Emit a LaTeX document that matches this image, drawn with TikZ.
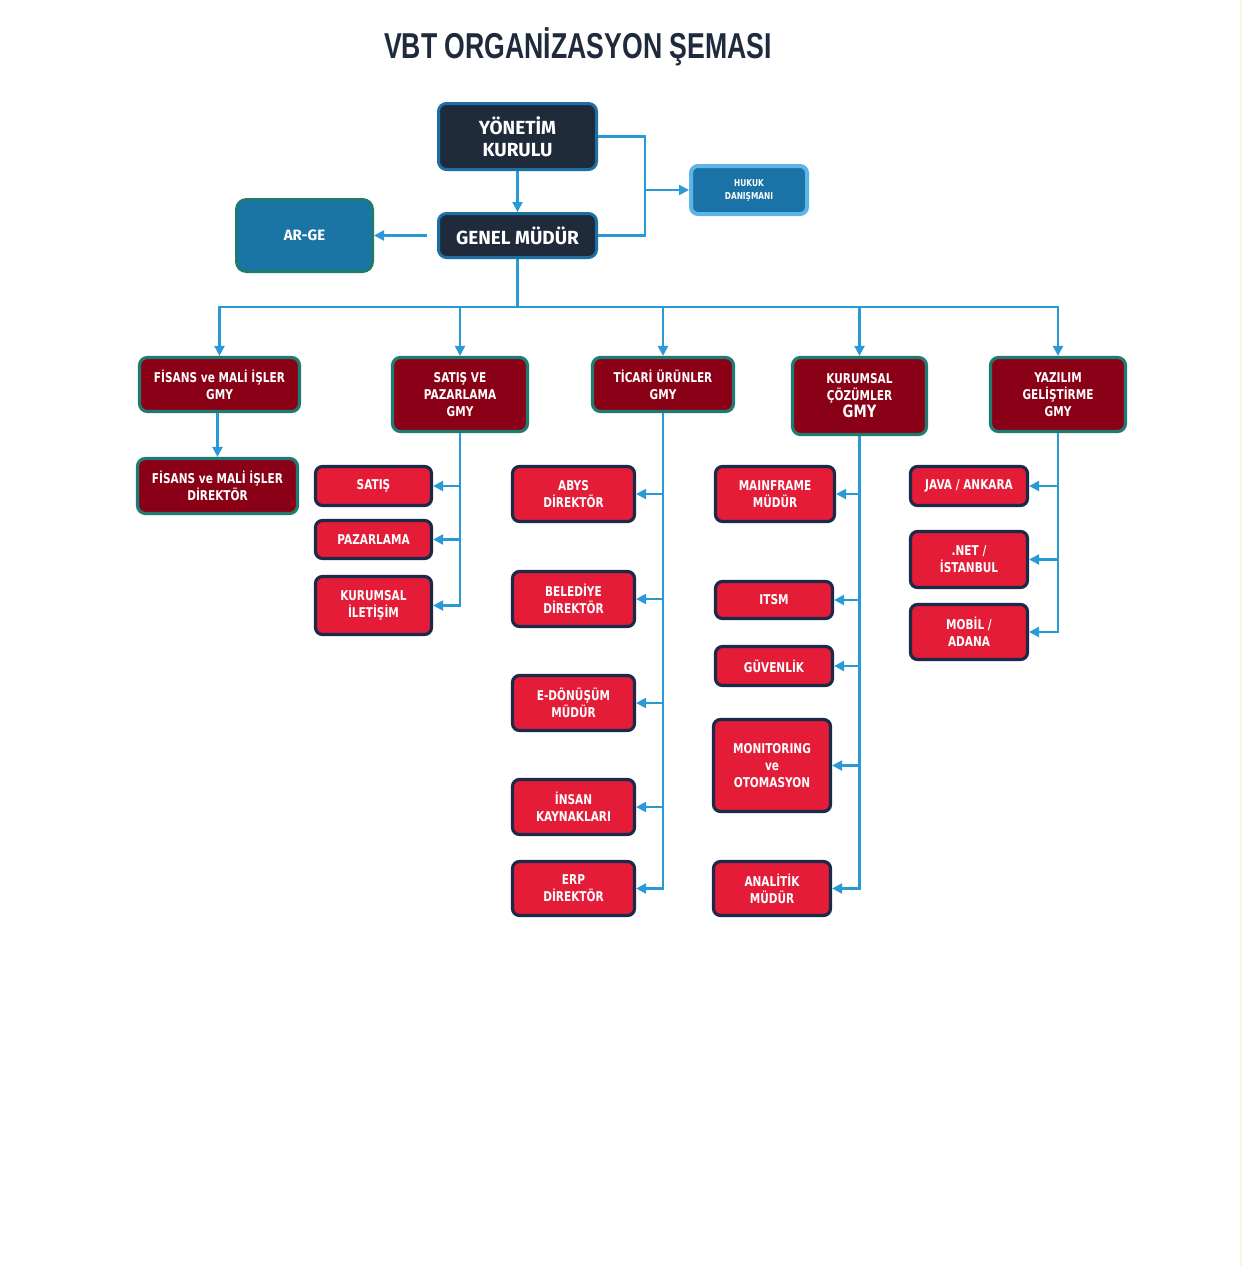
\documentclass[tikz,border=0pt]{standalone}
\usepackage{fontspec}
\usetikzlibrary{arrows.meta}
\setmainfont{DejaVu Sans}
\newfontfamily\boxfont[FakeStretch=0.78]{DejaVu Sans}
\newfontfamily\titlefont[FakeStretch=0.74]{Liberation Sans}
\newfontfamily\topfont{Fira Sans}
\definecolor{navyfill}{HTML}{1F2A3B}
\definecolor{topborder}{HTML}{1D6FA5}
\definecolor{hukukfill}{HTML}{1A72A6}
\definecolor{hukukborder}{HTML}{5BB5E8}
\definecolor{argefill}{HTML}{1B74A6}
\definecolor{tealborder}{HTML}{1F7A70}
\definecolor{gmyred}{HTML}{8A0016}
\definecolor{brightred}{HTML}{E41C38}
\definecolor{navyborder}{HTML}{1C2A4A}
\definecolor{connblue}{HTML}{2A9AD6}
\definecolor{titlecol}{HTML}{1F2A3C}
\definecolor{edgeline}{HTML}{F8F8DE}
\tikzset{
  topbox/.style={draw=topborder, fill=navyfill, line width=3pt, rounded corners=8pt,
    text=white, font=\topfont\bfseries\fontsize{19}{22}\selectfont, align=center, inner sep=0pt},
  hukukbox/.style={draw=hukukborder, fill=hukukfill, line width=4pt, rounded corners=7pt,
    text=white, font=\boxfont\bfseries\fontsize{9.5}{13}\selectfont, align=center, inner sep=0pt},
  argebox/.style={draw=tealborder, fill=argefill, line width=3pt, rounded corners=10pt,
    text=white, font=\topfont\bfseries\fontsize{15}{18}\selectfont, align=center, inner sep=0pt},
  gmybox/.style={draw=tealborder, fill=gmyred, line width=3.2pt, rounded corners=8pt,
    text=white, font=\boxfont\bfseries\fontsize{13.5}{17}\selectfont, align=center, inner sep=0pt},
  redbox/.style={draw=navyborder, fill=brightred, line width=3.2pt, rounded corners=7pt,
    text=white, font=\boxfont\bfseries\fontsize{13.5}{17}\selectfont, align=center, inner sep=0pt},
  link/.style={draw=connblue, line width=2.2pt},
  conn/.style={link, -{Triangle[length=10pt,width=10pt]}}
}
\begin{document}
\begin{tikzpicture}[x=1pt,y=-1pt]
\fill[white] (0,0) rectangle (1258,1266);
\useasboundingbox (0,0) rectangle (1258,1266);
\draw[edgeline, line width=1.5pt] (1241,0) -- (1241,1266);

\node[text=titlecol, font=\titlefont\bfseries\fontsize{36}{40}\selectfont] (title) at (578,47) {VBT ORGANİZASYON ŞEMASI};

\node[topbox, minimum width=158pt, minimum height=66pt] (yk) at (517.5,136.5) {YÖNETİM\\KURULU};
\node[topbox, minimum width=158pt, minimum height=44pt] (gm) at (517.5,235.5) {GENEL MÜDÜR};
\node[hukukbox, minimum width=116pt, minimum height=48pt] (hukuk) at (749,190) {HUKUK\\DANIŞMANI};
\node[argebox, minimum width=136pt, minimum height=72pt] (arge) at (304.5,235.5) {AR-GE};

\node[gmybox, minimum width=160pt, minimum height=54pt] (g1) at (219.5,384.5) {FİSANS ve MALİ İŞLER\\GMY};
\node[gmybox, minimum width=135pt, minimum height=74pt] (g2) at (460,394.5) {SATIŞ VE\\PAZARLAMA\\GMY};
\node[gmybox, minimum width=141pt, minimum height=54pt] (g3) at (663,384.5) {TİCARİ ÜRÜNLER\\GMY};
\node[gmybox, minimum width=134pt, minimum height=77pt] (g4) at (859.5,396) {KURUMSAL\\ÇÖZÜMLER\\{\fontsize{17}{19}\selectfont GMY}};
\node[gmybox, minimum width=135pt, minimum height=74pt] (g5) at (1058,394.5) {YAZILIM\\GELİŞTİRME\\GMY};

\node[gmybox, minimum width=160pt, minimum height=55pt] (fdir) at (217.5,486) {FİSANS ve MALİ İŞLER\\DİREKTÖR};

\node[redbox, minimum width=116pt, minimum height=39pt] (satis) at (373.5,486) {SATIŞ};
\node[redbox, minimum width=116pt, minimum height=38pt] (paz) at (373.5,539.5) {PAZARLAMA};
\node[redbox, minimum width=116pt, minimum height=58pt] (kil) at (373.5,605.5) {KURUMSAL\\İLETİŞİM};

\node[redbox, minimum width=122pt, minimum height=55pt] (abys) at (573.5,494) {ABYS\\DİREKTÖR};
\node[redbox, minimum width=122pt, minimum height=55pt] (bel) at (573.5,599) {BELEDİYE\\DİREKTÖR};
\node[redbox, minimum width=122pt, minimum height=55pt] (edon) at (573.5,703) {E-DÖNÜŞÜM\\MÜDÜR};
\node[redbox, minimum width=122pt, minimum height=55pt] (ik) at (573.5,807) {İNSAN\\KAYNAKLARI};
\node[redbox, minimum width=122pt, minimum height=54pt] (erp) at (573.5,888.5) {ERP\\DİREKTÖR};

\node[redbox, minimum width=119pt, minimum height=55pt] (mainf) at (775,494) {MAINFRAME\\MÜDÜR};
\node[redbox, minimum width=117pt, minimum height=37pt] (itsm) at (774,600) {ITSM};
\node[redbox, minimum width=117pt, minimum height=39pt] (guv) at (774,666) {GÜVENLİK};
\node[redbox, minimum width=117pt, minimum height=92pt] (mon) at (772,765.5) {MONITORING\\ve\\OTOMASYON};
\node[redbox, minimum width=117pt, minimum height=54pt] (anl) at (772,888.5) {ANALİTİK\\MÜDÜR};

\node[redbox, minimum width=117pt, minimum height=39pt] (java) at (969,486) {JAVA / ANKARA};
\node[redbox, minimum width=117pt, minimum height=56pt] (net) at (969,559.5) {.NET /\\İSTANBUL};
\node[redbox, minimum width=117pt, minimum height=55pt] (mob) at (969,632) {MOBİL /\\ADANA};

% top connectors
\draw[conn] (yk.south) -- (gm.north);
\coordinate (hj) at (645,190);
\draw[link] (yk.east) -| (hj);
\draw[link] (gm.east) -| (hj);
\draw[conn] (hj) -- (hukuk.west);
\draw[conn, shorten <=10pt] (gm.west) -- (arge.east);

% bus
\coordinate (bus) at (517.5,307);
\draw[link] (gm.south) -- (bus);
\foreach \g in {g1,g2,g3,g4,g5} \draw[conn] (bus) -| (\g.north);

% children
\draw[conn] (g1.south -| fdir.north) -- (fdir.north);
\foreach \c in {satis,paz,kil} \draw[conn] (g2.south) |- (\c.east);
\foreach \c in {abys,bel,edon,ik,erp} \draw[conn] (g3.south) |- (\c.east);
\foreach \c in {mainf,itsm,guv,mon,anl} \draw[conn] (g4.south) |- (\c.east);
\foreach \c in {java,net,mob} \draw[conn] (g5.south) |- (\c.east);
\end{tikzpicture}
\end{document}
